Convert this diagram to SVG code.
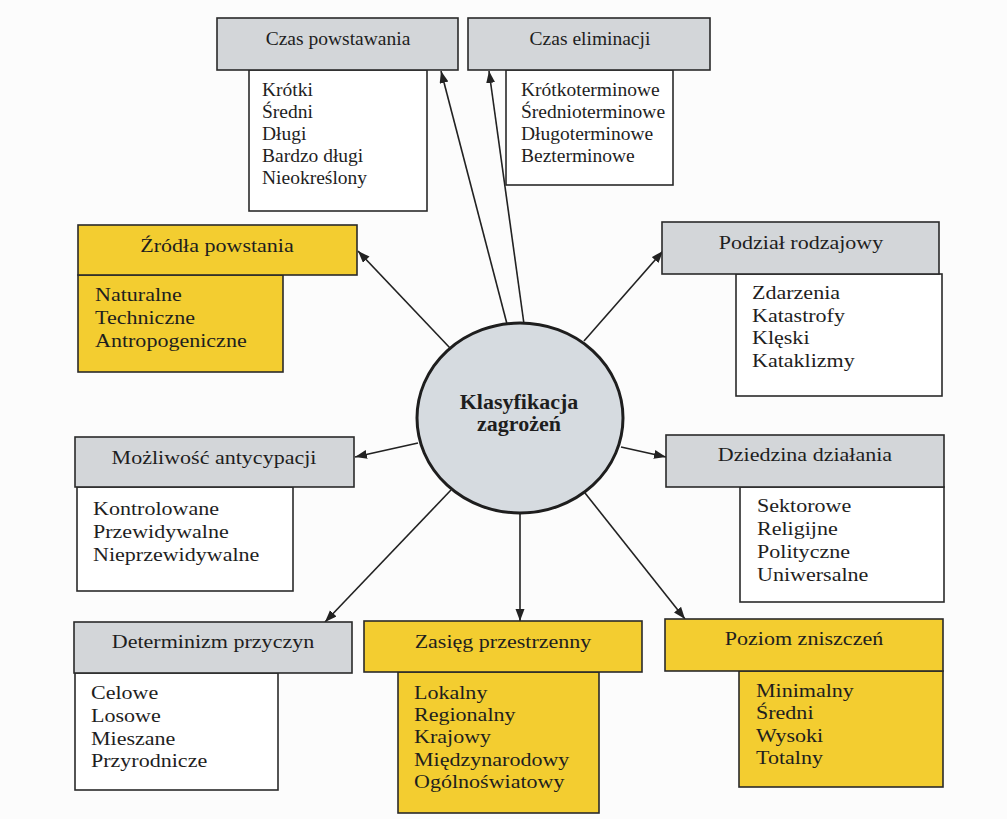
<svg xmlns="http://www.w3.org/2000/svg" width="1007" height="819" viewBox="0 0 1007 819">
<style>
.hdr-g{fill:#d3d6d9;stroke:#2a2a2a;stroke-width:1.6}
.hdr-y{fill:#f3cd30;stroke:#2a2a2a;stroke-width:1.6}
.body-w{fill:#ffffff;stroke:#2a2a2a;stroke-width:1.6}
.body-y{fill:#f3cd30;stroke:#2a2a2a;stroke-width:1.6}
text{font-family:"Liberation Serif","Times New Roman",serif;fill:#1e1e1e}
.ht{font-size:19.5px;text-anchor:middle}
.bt{font-size:19.5px}
.ht-s{font-size:19.5px;text-anchor:middle}
.bt-s{font-size:19.5px}
.ct{font-size:20px;font-weight:bold;text-anchor:middle}
.conn{stroke:#222;stroke-width:1.6;fill:none;marker-end:url(#arr)}
</style>
<defs>
<marker id="arr" markerUnits="userSpaceOnUse" markerWidth="13" markerHeight="10" refX="12" refY="4.5" orient="auto">
<path d="M0,0 L12,4.5 L0,9 z" fill="#222"/>
</marker>
</defs>
<rect width="1007" height="819" fill="#fcfcfc"/>

<g id="connectors">
<line class="conn" x1="507" y1="324" x2="441" y2="71"/>
<line class="conn" x1="524" y1="324" x2="489" y2="71"/>
<line class="conn" x1="450" y1="348" x2="358" y2="251"/>
<line class="conn" x1="584" y1="341" x2="663" y2="251"/>
<line class="conn" x1="418" y1="443" x2="355" y2="457"/>
<line class="conn" x1="621" y1="447" x2="666" y2="457"/>
<line class="conn" x1="451" y1="490" x2="325" y2="622"/>
<line class="conn" x1="520" y1="513" x2="520" y2="621"/>
<line class="conn" x1="585" y1="493" x2="685" y2="619"/>
</g>

<g id="czas-powstawania">
<rect class="body-w" x="249" y="70" width="178" height="141"/>
<rect class="hdr-g" x="217" y="18" width="241" height="52"/>
<text class="ht-s" x="338" y="45">Czas powstawania</text>
<text class="bt-s" x="262" y="96">Krótki</text>
<text class="bt-s" x="262" y="118">Średni</text>
<text class="bt-s" x="262" y="140">Długi</text>
<text class="bt-s" x="262" y="162">Bardzo długi</text>
<text class="bt-s" x="262" y="184">Nieokreślony</text>
</g>

<g id="czas-eliminacji">
<rect class="body-w" x="506" y="70" width="167" height="115"/>
<rect class="hdr-g" x="468" y="18" width="242" height="52"/>
<text class="ht-s" x="590" y="45">Czas eliminacji</text>
<text class="bt-s" x="521" y="96">Krótkoterminowe</text>
<text class="bt-s" x="521" y="118">Średnioterminowe</text>
<text class="bt-s" x="521" y="140">Długoterminowe</text>
<text class="bt-s" x="521" y="162">Bezterminowe</text>
</g>

<g id="zrodla-powstania">
<rect class="body-y" x="78" y="275" width="205" height="97"/>
<rect class="hdr-y" x="78" y="225" width="279" height="50"/>
<g transform="translate(217 0) scale(1.13 1)"><text class="ht" x="0" y="252">Źródła powstania</text></g>
<g transform="translate(95 0) scale(1.13 1)">
<text class="bt" x="0" y="301">Naturalne</text>
<text class="bt" x="0" y="324">Techniczne</text>
<text class="bt" x="0" y="347">Antropogeniczne</text>
</g>
</g>

<g id="mozliwosc-antycypacji">
<rect class="body-w" x="77" y="487" width="216" height="104"/>
<rect class="hdr-g" x="75" y="437" width="279" height="50"/>
<g transform="translate(214 0) scale(1.13 1)"><text class="ht" x="0" y="464">Możliwość antycypacji</text></g>
<g transform="translate(93 0) scale(1.13 1)">
<text class="bt" x="0" y="515">Kontrolowane</text>
<text class="bt" x="0" y="538">Przewidywalne</text>
<text class="bt" x="0" y="561">Nieprzewidywalne</text>
</g>
</g>

<g id="podzial-rodzajowy">
<rect class="body-w" x="736" y="274" width="206" height="122"/>
<rect class="hdr-g" x="662" y="222" width="277" height="52"/>
<g transform="translate(801 0) scale(1.13 1)"><text class="ht" x="0" y="249">Podział rodzajowy</text></g>
<g transform="translate(752 0) scale(1.13 1)">
<text class="bt" x="0" y="299">Zdarzenia</text>
<text class="bt" x="0" y="322">Katastrofy</text>
<text class="bt" x="0" y="344">Klęski</text>
<text class="bt" x="0" y="367">Kataklizmy</text>
</g>
</g>

<g id="dziedzina-dzialania">
<rect class="body-w" x="740" y="487" width="204" height="115"/>
<rect class="hdr-g" x="666" y="435" width="278" height="52"/>
<g transform="translate(805 0) scale(1.13 1)"><text class="ht" x="0" y="461">Dziedzina działania</text></g>
<g transform="translate(757 0) scale(1.13 1)">
<text class="bt" x="0" y="512">Sektorowe</text>
<text class="bt" x="0" y="535">Religijne</text>
<text class="bt" x="0" y="558">Polityczne</text>
<text class="bt" x="0" y="581">Uniwersalne</text>
</g>
</g>

<g id="determinizm-przyczyn">
<rect class="body-w" x="75" y="673" width="203" height="117"/>
<rect class="hdr-g" x="74" y="622" width="278" height="51"/>
<g transform="translate(213 0) scale(1.13 1)"><text class="ht" x="0" y="648">Determinizm przyczyn</text></g>
<g transform="translate(91 0) scale(1.13 1)">
<text class="bt" x="0" y="699">Celowe</text>
<text class="bt" x="0" y="722">Losowe</text>
<text class="bt" x="0" y="745">Mieszane</text>
<text class="bt" x="0" y="767">Przyrodnicze</text>
</g>
</g>

<g id="zasieg-przestrzenny">
<rect class="body-y" x="398" y="672" width="201" height="141"/>
<rect class="hdr-y" x="364" y="621" width="278" height="51"/>
<g transform="translate(503 0) scale(1.13 1)"><text class="ht" x="0" y="648">Zasięg przestrzenny</text></g>
<g transform="translate(414 0) scale(1.13 1)">
<text class="bt" x="0" y="699">Lokalny</text>
<text class="bt" x="0" y="721">Regionalny</text>
<text class="bt" x="0" y="743">Krajowy</text>
<text class="bt" x="0" y="766">Międzynarodowy</text>
<text class="bt" x="0" y="788">Ogólnoświatowy</text>
</g>
</g>

<g id="poziom-zniszczen">
<rect class="body-y" x="739" y="671" width="204" height="116"/>
<rect class="hdr-y" x="665" y="619" width="278" height="52"/>
<g transform="translate(804 0) scale(1.13 1)"><text class="ht" x="0" y="645">Poziom zniszczeń</text></g>
<g transform="translate(756 0) scale(1.13 1)">
<text class="bt" x="0" y="697">Minimalny</text>
<text class="bt" x="0" y="719">Średni</text>
<text class="bt" x="0" y="742">Wysoki</text>
<text class="bt" x="0" y="764">Totalny</text>
</g>
</g>

<g id="klasyfikacja-zagrozen">
<ellipse cx="520" cy="418" rx="103" ry="95" fill="#d6dbe0" stroke="#1e1e1e" stroke-width="3"/>
<g transform="translate(519 0) scale(1.1 1)">
<text class="ct" x="0" y="409">Klasyfikacja</text>
<text class="ct" x="0" y="431">zagrożeń</text>
</g>
</g>
</svg>
